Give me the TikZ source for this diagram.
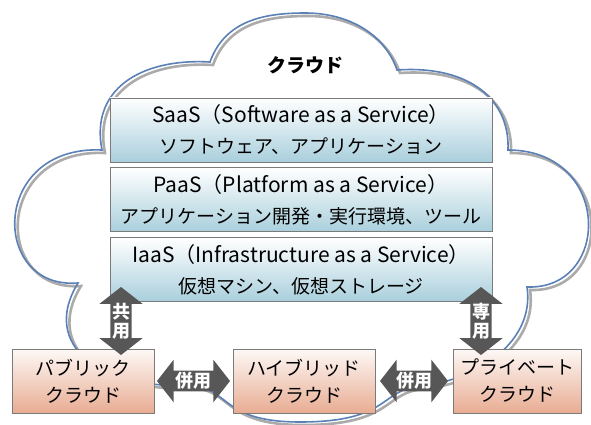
\documentclass[tikz,border=0pt]{standalone}
\usepackage{fontspec}
\setmainfont{Noto Sans CJK JP}
\usetikzlibrary{positioning,shapes.arrows,calc}
\definecolor{cloudblue}{HTML}{5B80B6}
\definecolor{shadowgray}{HTML}{ABABAB}
\definecolor{boxgray}{HTML}{7A7A7A}
\definecolor{layerblue}{HTML}{A9CFDC}
\definecolor{cloudsalmon}{HTML}{E8AC92}
\definecolor{arrowgray}{HTML}{575757}
\newcommand\latinline[1]{{\fontsize{21}{31}\selectfont #1}}

\begin{document}
\begin{tikzpicture}[x=1pt,y=-1pt,
    layer/.style={draw=boxgray, line width=0.8pt, top color=white, bottom color=layerblue, minimum width=382pt, minimum height=64pt, inner sep=0pt, align=center, font=\fontsize{19}{31}\selectfont},
    kind/.style={draw=boxgray, line width=0.8pt, top color=cloudsalmon!8, bottom color=cloudsalmon, minimum height=64pt, inner sep=0pt, align=center, font=\fontsize{19}{27}\selectfont},
    link/.style={shape=double arrow, fill=arrowgray, text=white, font=\bfseries\fontsize{18}{19}\selectfont, inner sep=1.5pt, double arrow head extend=11pt, double arrow tip angle=104, align=center}]
    \useasboundingbox (0,0) rectangle (591,425);
    \foreach \col/\wd/\sh in {shadowgray/2.6pt/3, cloudblue/1.6pt/0}
    {
    \draw[draw=\col, line width=\wd, shift={(\sh,\sh)}] (210,62)
        .. controls (225,20) and (265,13) .. (305,13)
        .. controls (350,13) and (385,35) .. (397,70)
        .. controls (470,65) and (510,100) .. (508,150)
        .. controls (612,150) and (612,290) .. (527,287)
        .. controls (535,340) and (480,380) .. (420,386)
        .. controls (380,390) and (390,422) .. (300,422)
        .. controls (220,422) and (230,388) .. (190,385)
        .. controls (100,390) and (40,345) .. (78,283)
        .. controls (-10,290) and (-10,145) .. (102,150)
        .. controls (90,90) and (140,58) .. (210,62) -- cycle;
    }
    \node[font=\bfseries\fontsize{19}{20}\selectfont] (cloudname) at (305,65) {クラウド};
    \node[layer] (saas) at (301,130) {\latinline{SaaS（Software as a Service）}\\ソフトウェア、アプリケーション};
    \node[layer, below=5pt of saas] (paas) {\latinline{PaaS（Platform as a Service）}\\アプリケーション開発・実行環境、ツール};
    \node[layer, below=5pt of paas] (iaas) {\latinline{IaaS（Infrastructure as a Service）}\\仮想マシン、仮想ストレージ};
    \node[kind, minimum width=142pt] (public) at (83,381) {パブリック\\クラウド};
    \node[kind, minimum width=142pt] (hybrid) at (304,381) {ハイブリッド\\クラウド};
    \node[kind, minimum width=128pt] (private) at (517,381) {プライベート\\クラウド};
    \node[link, shape border rotate=90, minimum height=68pt] (shared) at (121,321) {共\\用};
    \node[link, shape border rotate=90, minimum height=68pt] (dedicated) at (481,321) {専\\用};
    \node[link, minimum height=73pt] (mixleft) at ($(public.east)!0.5!(hybrid.west)$) {併用};
    \node[link, minimum height=68pt] (mixright) at ($(hybrid.east)!0.5!(private.west)$) {併用};
\end{tikzpicture}
\end{document}
